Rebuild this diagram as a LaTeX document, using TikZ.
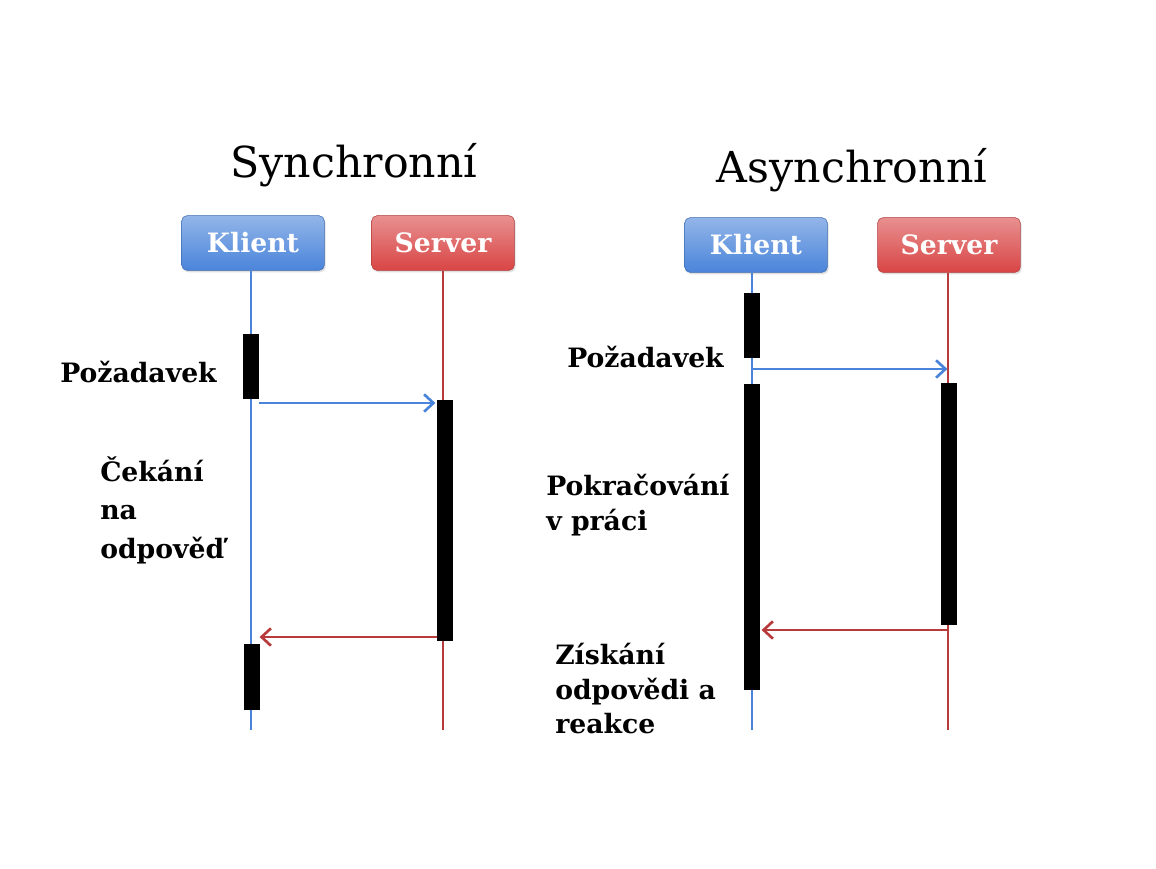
\documentclass[tikz,border=0pt]{standalone}
\usepackage{fontspec}
\setmainfont{DejaVu Serif}
\usepackage{tikz}
\usetikzlibrary{calc,arrows.meta,shadows}

\definecolor{klientblue}{HTML}{4A84DA}
\definecolor{serverred}{HTML}{D94545}

\begin{document}
\begin{tikzpicture}[x=0.75pt, y=-0.75pt,
    title/.style={font=\fontsize{32}{36}\selectfont},
    klient/.style={rounded corners=4pt, draw=klientblue!80!black, top color=klientblue!60!white, bottom color=klientblue,
        text=white, font=\bfseries\fontsize{20}{22}\selectfont, minimum width=107pt, minimum height=41pt,
        drop shadow={opacity=0.25, shadow xshift=1pt, shadow yshift=-1.5pt}},
    server/.style={klient, draw=serverred!80!black, top color=serverred!60!white, bottom color=serverred},
    bar/.style={fill=black, draw=black, inner sep=0pt, minimum width=11pt},
    label/.style={font=\bfseries\fontsize{20}{26}\selectfont, align=left, anchor=north west, inner sep=0pt},
    kline/.style={klientblue, line width=1.5pt},
    sline/.style={serverred!85!black, line width=1.2pt},
    reqarrow/.style={klientblue, line width=2pt, -{Straight Barb[length=7pt, width=13pt]}},
    resarrow/.style={serverred!85!black, line width=2pt, -{Straight Barb[length=7pt, width=13pt]}}]
    \useasboundingbox (0,0) rectangle (1156,868);

    % Synchronni
    \node[title] (synctitle) at (354,165) {Synchronní};
    \node[klient] (klient1) at (253,243) {Klient};
    \node[server] (server1) at (443,243) {Server};
    \coordinate (kend1) at (251,730);
    \coordinate (send1) at (443,730);
    \draw[kline] (klient1.south -| kend1) -- (kend1);
    \draw[sline] (server1.south) -- (send1);

    \node[bar, minimum height=48pt] (kreq1) at (251,366) {};
    \node[bar, minimum height=180pt] (sact1) at (445,520) {};
    \node[bar, minimum height=49pt] (kres1) at (252,677) {};

    \coordinate (req1) at (0,403);
    \coordinate (res1) at (0,637);
    \draw[reqarrow] (kreq1.east |- req1) -- ($(sact1.west |- req1)+(-2,0)$);
    \draw[resarrow] (sact1.west |- res1) -- ($(kres1.east |- res1)+(0,0)$);

    \node[label] (zadost1) at (60,361) {Požadavek};
    \node[label, font=\bfseries\fontsize{20}{29}\selectfont] (cekani) at (100,456) {Čekání\\na\\odpověď};

    % Asynchronni
    \node[title] (asynctitle) at (852,170) {Asynchronní};
    \node[klient] (klient2) at (756,245) {Klient};
    \node[server] (server2) at (949,245) {Server};
    \coordinate (kend2) at (752,730);
    \coordinate (send2) at (948,730);
    \draw[kline] (klient2.south -| kend2) -- (kend2);
    \draw[sline] (server2.south -| send2) -- (send2);

    \node[bar, minimum height=48pt] (kreq2) at (752,325) {};
    \node[bar, minimum height=229pt] (kact2) at (752,537) {};
    \node[bar, minimum height=181pt] (sact2) at (949,504) {};

    \coordinate (req2) at (0,369);
    \coordinate (res2) at (0,630);
    \draw[reqarrow] (kreq2.center |- req2) -- ($(sact2.north west |- req2)+(6,0)$);
    \draw[resarrow] (sact2.center |- res2) -- ($(kact2.east |- res2)+(2,0)$);

    \node[label] (zadost2) at (567,346) {Požadavek};
    \node[label] (pokracovani) at (546,474) {Pokračování\\v práci};
    \node[label] (ziskani) at (555,643) {Získání\\odpovědi a\\reakce};
\end{tikzpicture}
\end{document}
